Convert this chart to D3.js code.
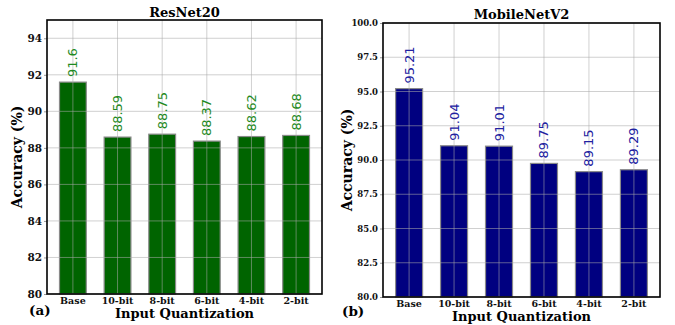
<!DOCTYPE html>
<head>
	<meta charset="utf-8" />
	<style>
		body { margin: 0; background: #fff; }
		svg text { font-family: 'DejaVu Serif', serif; font-weight: bold; }
		.val { font-family: 'DejaVu Sans', sans-serif; font-weight: normal; }
	</style>
</head>
<body>
	<svg id="chart" width="675" height="325"></svg>
	<script src="https://cdn.jsdelivr.net/npm/d3@7"></script>
	<script>
		const categories = ['Base', '10-bit', '8-bit', '6-bit', '4-bit', '2-bit'];
		const resnetValues = [91.6, 88.59, 88.75, 88.37, 88.62, 88.68];
		const resnetLabels = ['91.6', '88.59', '88.75', '88.37', '88.62', '88.68'];
		const resnetTicks = [80, 82, 84, 86, 88, 90, 92, 94];
		const mobileValues = [95.21, 91.04, 91.01, 89.75, 89.15, 89.29];
		const mobileLabels = ['95.21', '91.04', '91.01', '89.75', '89.15', '89.29'];
		const mobileTicks = [80, 82.5, 85, 87.5, 90, 92.5, 95, 97.5, 100];

		const svg = d3.select('#chart');

		// one entry per subplot
		const panels = [
			{
				title: 'ResNet20', tag: '(a)', values: resnetValues, labels: resnetLabels,
				ticks: resnetTicks, domain: [80, 95], fmt: d3.format('d'),
				left: 47, right: 322, top: 20, bottom: 294,
				bar: '#006400', text: '#1f8a1f', tickSize: 10.5,
				ylabX: 22, tagX: 29, tagY: 315, xtickY: 304, xlabY: 318, titleY: 17
			},
			{
				title: 'MobileNetV2', tag: '(b)', values: mobileValues, labels: mobileLabels,
				ticks: mobileTicks, domain: [80, 100], fmt: d3.format('.1f'),
				left: 383, right: 660, top: 23, bottom: 297,
				bar: '#000080', text: '#2020a0', tickSize: 8.5,
				ylabX: 352, tagX: 342, tagY: 316, xtickY: 307, xlabY: 321, titleY: 19
			}
		];

		panels.forEach(p => {
			const x = d3.scaleLinear().domain([-0.58, categories.length - 1 + 0.58]).range([p.left, p.right]);
			const y = d3.scaleLinear().domain(p.domain).range([p.bottom, p.top]);
			const bw = x(0.6) - x(0);
			const g = svg.append('g');

			// bars
			g.selectAll('rect.bar')
				.data(p.values)
				.join('rect')
				.attr('class', 'bar')
				.attr('x', (d, i) => x(i) - bw / 2)
				.attr('y', d => y(d))
				.attr('width', bw)
				.attr('height', d => y(p.domain[0]) - y(d))
				.attr('fill', p.bar)
				.attr('stroke', '#8a8a8a')
				.attr('stroke-width', 1.2);

			// grid over the bars
			g.selectAll('line.hg')
				.data(p.ticks)
				.join('line')
				.attr('x1', p.left).attr('x2', p.right)
				.attr('y1', d => y(d)).attr('y2', d => y(d))
				.attr('stroke', 'rgba(170,170,170,0.55)')
				.attr('stroke-width', 1);
			g.selectAll('line.vg')
				.data(categories)
				.join('line')
				.attr('x1', (d, i) => x(i)).attr('x2', (d, i) => x(i))
				.attr('y1', p.top).attr('y2', p.bottom)
				.attr('stroke', 'rgba(170,170,170,0.55)')
				.attr('stroke-width', 1);

			// y axis ticks
			const yAxis = d3.axisLeft(y).tickValues(p.ticks).tickFormat(p.fmt).tickSize(3).tickPadding(2);
			const ya = g.append('g').attr('transform', `translate(${p.left},0)`).call(yAxis);
			ya.select('.domain').remove();
			ya.selectAll('line').attr('stroke', '#999');
			ya.selectAll('text')
				.attr('font-family', 'DejaVu Serif')
				.attr('font-weight', 'bold')
				.attr('font-size', p.tickSize)
				.attr('fill', '#111');

			// x tick labels
			g.selectAll('text.xt')
				.data(categories)
				.join('text')
				.attr('x', (d, i) => x(i))
				.attr('y', p.xtickY)
				.attr('text-anchor', 'middle')
				.attr('font-size', 9.5)
				.attr('fill', '#111')
				.text(d => d);

			// value labels
			g.selectAll('text.val')
				.data(p.values)
				.join('text')
				.attr('class', 'val')
				.attr('transform', (d, i) => `translate(${x(i) + 4.5},${y(d) - 5}) rotate(-90)`)
				.attr('font-size', 13)
				.attr('fill', p.text)
				.text((d, i) => p.labels[i]);

			// frame
			g.append('rect')
				.attr('x', p.left).attr('y', p.top)
				.attr('width', p.right - p.left).attr('height', p.bottom - p.top)
				.attr('fill', 'none').attr('stroke', '#000').attr('stroke-width', 1.6);

			// title and axis labels
			g.append('text')
				.attr('x', (p.left + p.right) / 2).attr('y', p.titleY)
				.attr('text-anchor', 'middle').attr('font-size', 13)
				.text(p.title);
			g.append('text')
				.attr('x', (p.left + p.right) / 2).attr('y', p.xlabY)
				.attr('text-anchor', 'middle').attr('font-size', 13)
				.text('Input Quantization');
			g.append('text')
				.attr('transform', `translate(${p.ylabX},${(p.top + p.bottom) / 2}) rotate(-90)`)
				.attr('text-anchor', 'middle').attr('font-size', 14)
				.text('Accuracy (%)');
			g.append('text')
				.attr('x', p.tagX).attr('y', p.tagY)
				.attr('font-size', 13.5)
				.text(p.tag);
		});
	</script>
</body>
